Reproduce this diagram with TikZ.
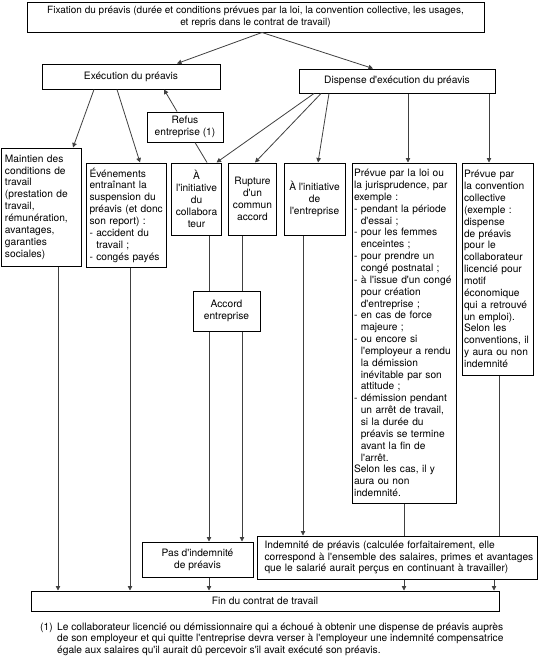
\documentclass[tikz,border=0pt]{standalone}
\usepackage{fontspec}
\setmainfont{TeX Gyre Heros}[Ligatures=TeXOff]
\usetikzlibrary{arrows.meta}
\newcommand\hind{\hphantom{- }}
\newcommand\fsz{\fontsize{10.2}{11.85}\selectfont\hyphenpenalty=10000 }
\newcommand\fszt{\fontsize{10}{11.85}\selectfont}
\hyphenpenalty=10000
\begin{document}
\begin{tikzpicture}[x=1pt,y=-1pt,
  box/.style={draw, line width=1pt, inner xsep=4pt, inner ysep=0pt, font=\fsz},
  lbox/.style={box, align=left},
  cbox/.style={box, align=center},
  link/.style={line width=0.8pt, draw=black!75},
  arr/.style={link, -{Triangle[length=4.5pt,width=4.5pt]}}
]
\useasboundingbox (0,0) rectangle (540,656);

\node[cbox, font=\fszt, minimum width=457pt, minimum height=30pt] (fix) at (255.5,17)
  {Fixation du préavis (durée et conditions prévues par la loi, la convention collective, les usages,\\ et repris dans le contrat de travail)};
\node[cbox, minimum width=178pt, minimum height=25pt] (exec) at (131,76.5) {Exécution du préavis};
\node[cbox, minimum width=196pt, minimum height=24pt] (disp) at (397,81) {Dispense d'exécution du préavis};
\node[cbox, minimum width=76pt, minimum height=30pt] (refus) at (185,127) {Refus\\ entreprise (1)};

\node[lbox, text width=72pt, minimum height=118pt] (maint) at (41,207)
  {Maintien des\\ conditions de\\ travail\\ (prestation de\\ travail,\\ rémunération,\\ avantages,\\ garanties\\ sociales)};
\node[lbox, inner xsep=2pt, text width=76pt, minimum height=104pt] (even) at (126,215)
  {\hspace*{1.5pt}Événements\\ \hspace*{1.5pt}entraînant la\\ \hspace*{1.5pt}suspension du\\ \hspace*{1.5pt}préavis (et donc\\ \hspace*{1.5pt}son report) :\\ \hspace*{1.5pt}- accident du\\ \hspace*{1.5pt}\hind travail ;\\ \hspace*{1.5pt}- congés payés};
\node[cbox, minimum width=45pt, minimum height=72pt] (acol) at (196.5,199)
  {À\\ l'initiative\\ du\\ collabora\\ teur};
\node[cbox, minimum width=47pt, minimum height=72pt] (rupt) at (252.5,199)
  {Rupture\\ d'un\\ commun\\ accord};
\node[cbox, minimum width=61pt, minimum height=72pt] (aent) at (314.5,199)
  {À l'initiative\\ de\\ l'entreprise};
\node[lbox, inner xsep=2pt, text width=100pt, minimum height=340pt] (prev) at (404,333)
  {Prévue par la loi ou\\ la jurisprudence, par\\ exemple :\\
   - pendant la période\\ \hind d'essai ;\\
   - pour les femmes\\ \hind enceintes ;\\
   - pour prendre un\\ \hind congé postnatal ;\\
   - à l'issue d'un congé\\ \hind pour création\\ \hind d'entreprise ;\\
   - en cas de force\\ \hind majeure ;\\
   - ou encore si\\ \hind l'employeur a rendu\\ \hind la démission\\ \hind inévitable par son\\ \hind attitude ;\\
   - démission pendant\\ \hind un arrêt de travail,\\ \hind si la durée du\\ \hind préavis se termine\\ \hind avant la fin de\\ \hind l'arrêt.\\
   Selon les cas, il y\\ aura ou non\\ indemnité.};
\node[lbox, inner xsep=2pt, text width=67pt, minimum height=212pt] (conv) at (497.5,269)
  {Prévue par\\ la convention\\ collective\\ (exemple :\\ dispense\\ de préavis\\ pour le\\ collaborateur\\ licencié pour\\ motif\\ économique\\ qui a retrouvé\\ un emploi).\\ Selon les\\ conventions, il\\ y aura ou non\\ indemnité};
\node[cbox, minimum width=67pt, minimum height=40pt] (accord) at (226.5,311) {Accord\\ entreprise};
\node[cbox, minimum width=111pt, minimum height=35pt] (pas) at (197.5,559.5) {Pas d'indemnité\\ de préavis};
\node[lbox, inner xsep=3pt, text width=274pt, minimum height=43pt] (indem) at (397,557.5)
  {\hspace*{4.5pt}Indemnité de préavis (calculée forfaitairement, elle\\ \hspace*{4.5pt}correspond à l'ensemble des salaires, primes et avantages\\ \hspace*{4.5pt}que le salarié aurait perçus en continuant à travailler)};
\node[cbox, minimum width=468pt, minimum height=20pt] (fin) at (265,601) {Fin du contrat de travail};

\node[anchor=north west, align=left, font=\fsz, inner sep=0pt] (note) at (40,622.5)
  {\makebox[17pt][l]{(1)}Le collaborateur licencié ou démissionnaire qui a échoué à obtenir une dispense de préavis auprès\\
   \hspace*{17pt}de son employeur et qui quitte l'entreprise devra verser à l'employeur une indemnité compensatrice\\
   \hspace*{17pt}égale aux salaires qu'il aurait dû percevoir s'il avait exécuté son préavis.};

% connectors
\draw[arr] ([xshift=6.5pt]fix.south) -- ([xshift=46pt]exec.north);
\draw[arr] ([xshift=6.5pt]fix.south) -- ([xshift=-24pt]disp.north);
\draw[arr] ([xshift=-8pt]refus.north) -- ([xshift=33pt]exec.south);
\draw[link] ([xshift=10pt]refus.south) -- ([xshift=10.5pt]acol.north);
\draw[arr] ([xshift=-37pt]exec.south) -- ([xshift=32pt]maint.north);
\draw[arr] ([xshift=-14pt]exec.south) -- ([xshift=14pt]even.north);
\draw[arr] ([xshift=-83pt]disp.south) -- ([xshift=20pt]acol.north);
\draw[arr] ([xshift=-76pt]disp.south) -- ([xshift=2.5pt]rupt.north);
\draw[arr] ([xshift=-68pt]disp.south) -- ([xshift=3.5pt]aent.north);
\draw[arr] ([xshift=11pt]disp.south) -- ([xshift=11pt]disp.south |- prev.north);
\draw[arr] ([xshift=92pt]disp.south) -- ([xshift=92pt]disp.south |- conv.north);

\draw[arr] ([xshift=17pt]maint.south) -- ([xshift=17pt]maint.south |- fin.north);
\draw[arr] ([xshift=4pt]even.south) -- ([xshift=4pt]even.south |- fin.north);
\draw[link] ([xshift=12.5pt]acol.south) -- ([xshift=12.5pt]acol.south |- accord.north);
\draw[link] ([xshift=-10.5pt]rupt.south) -- ([xshift=-10.5pt]rupt.south |- accord.north);
\draw[arr] ([xshift=-17.5pt]accord.south) -- ([xshift=-17.5pt]accord.south |- pas.north);
\draw[arr] ([xshift=15.5pt]accord.south) -- ([xshift=15.5pt]accord.south |- pas.north);
\draw[arr] ([xshift=11.5pt]pas.south) -- ([xshift=11.5pt]pas.south |- fin.north);
\draw[arr] ([xshift=-11.5pt]aent.south) -- ([xshift=-11.5pt]aent.south |- indem.north);
\draw[link] (prev.south) -- (prev.south |- indem.north);
\draw[link] ([xshift=1.5pt]conv.south) -- ([xshift=1.5pt]conv.south |- indem.north);
\draw[arr] ([xshift=7pt]indem.south) -- ([xshift=7pt]indem.south |- fin.north);
\draw[arr] ([xshift=97pt]indem.south) -- ([xshift=97pt]indem.south |- fin.north);
\end{tikzpicture}
\end{document}
